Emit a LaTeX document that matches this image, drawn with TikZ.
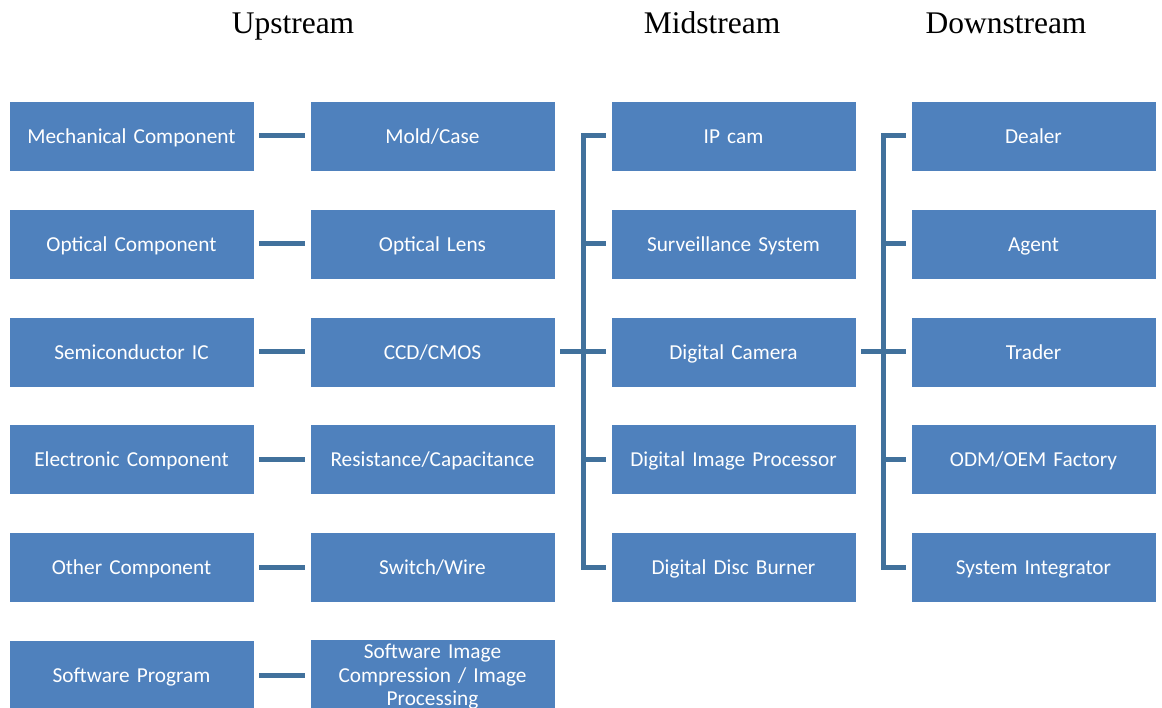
\documentclass[tikz,border=0pt]{standalone}
\usepackage{fontspec}
\setmainfont{Liberation Serif}
\newfontfamily\boxfont{Carlito}
\usepackage{xcolor}
\usepackage{tikz}
\usetikzlibrary{calc}

\definecolor{boxblue}{HTML}{4F81BD}
\definecolor{linkblue}{HTML}{41719C}

\tikzset{
	chainbox/.style={rectangle, fill=boxblue, draw=white, line width=0.8pt,
		minimum width=245pt, minimum height=70pt, inner sep=2pt,
		text=white, align=center, text width=235pt,
		text height=19.6pt, text depth=5pt,
		font=\boxfont\fontsize{21.3}{23.4}\selectfont},
	stage/.style={anchor=base, font=\fontsize{31.5}{36}\selectfont},
	link/.style={draw=linkblue, line width=5pt}
}

\begin{document}
\begin{tikzpicture}[x=1pt, y=1pt]
	\useasboundingbox (0,0) rectangle (1162,-708);

	\begin{scope}
		\node [stage] (up) at (293,-33.3) {Upstream};
		\node [stage] (mid) at (712,-33.3) {Midstream};
		\node [stage] (down) at (1006,-33.3) {Downstream};
	\end{scope}

	% upstream, raw parts
	\begin{scope}
		\node [chainbox] (mech) at (131.5,-136) {Mechanical Component};
		\node [chainbox] (optic) at (131.5,-244) {Optical Component};
		\node [chainbox] (semi) at (131.5,-352) {Semiconductor IC};
		\node [chainbox] (elec) at (131.5,-459.5) {Electronic Component};
		\node [chainbox] (other) at (131.5,-567) {Other Component};
		\node [chainbox] (soft) at (131.5,-675) {Software Program};
	\end{scope}

	% upstream, parts
	\begin{scope}
		\node [chainbox] (mold) at (432.5,-136) {Mold/Case};
		\node [chainbox] (lens) at (432.5,-244) {Optical Lens};
		\node [chainbox] (ccd) at (432.5,-352) {CCD/CMOS};
		\node [chainbox] (resist) at (432.5,-459.5) {Resistance/Capacitance};
		\node [chainbox] (switch) at (432.5,-567) {Switch/Wire};
		\node [chainbox, inner ysep=0pt, text depth=51.8pt] (compress) at (432.5,-675) {Software Image\\Compression / Image\\Processing};
	\end{scope}

	% midstream
	\begin{scope}
		\node [chainbox] (ipcam) at (733.5,-136) {IP cam};
		\node [chainbox] (surv) at (733.5,-244) {Surveillance System};
		\node [chainbox] (camera) at (733.5,-352) {Digital Camera};
		\node [chainbox] (proc) at (733.5,-459.5) {Digital Image Processor};
		\node [chainbox] (burner) at (733.5,-567) {Digital Disc Burner};
	\end{scope}

	% downstream
	\begin{scope}
		\node [chainbox] (dealer) at (1033.5,-136) {Dealer};
		\node [chainbox] (agent) at (1033.5,-244) {Agent};
		\node [chainbox] (trader) at (1033.5,-352) {Trader};
		\node [chainbox] (odm) at (1033.5,-459.5) {ODM/OEM Factory};
		\node [chainbox] (integ) at (1033.5,-567) {System Integrator};
	\end{scope}

	\begin{scope}[link]
		\draw ([xshift=5pt]mech.east) -- ([xshift=-5pt]mold.west);
		\draw ([xshift=5pt]optic.east) -- ([xshift=-5pt]lens.west);
		\draw ([xshift=5pt]semi.east) -- ([xshift=-5pt]ccd.west);
		\draw ([xshift=5pt]elec.east) -- ([xshift=-5pt]resist.west);
		\draw ([xshift=5pt]other.east) -- ([xshift=-5pt]switch.west);
		\draw ([xshift=5pt]soft.east) -- ([xshift=-5pt]compress.west);
	\end{scope}

	\begin{scope}[link]
		\draw ([xshift=-5pt]ipcam.west) -- ++(-22.5,0) |- ([xshift=-5pt]burner.west);
		\draw ([xshift=-27.5pt]surv.west) -- ([xshift=-5pt]surv.west);
		\draw ([xshift=5pt]ccd.east) -- ([xshift=-5pt]camera.west);
		\draw ([xshift=-27.5pt]proc.west) -- ([xshift=-5pt]proc.west);
	\end{scope}

	\begin{scope}[link]
		\draw ([xshift=-5pt]dealer.west) -- ++(-22.5,0) |- ([xshift=-5pt]integ.west);
		\draw ([xshift=-27.5pt]agent.west) -- ([xshift=-5pt]agent.west);
		\draw ([xshift=5pt]camera.east) -- ([xshift=-5pt]trader.west);
		\draw ([xshift=-27.5pt]odm.west) -- ([xshift=-5pt]odm.west);
	\end{scope}
\end{tikzpicture}
\end{document}
